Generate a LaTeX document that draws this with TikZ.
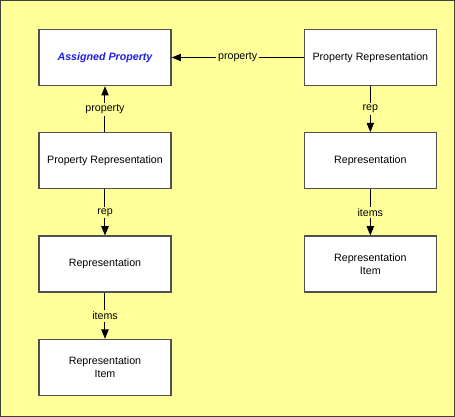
\documentclass[tikz,border=0pt]{standalone}
\usepackage{fontspec}
\setmainfont{Liberation Sans}
\definecolor{PaleYellow}{RGB}{255, 255, 153}
\definecolor{FrameGray}{RGB}{64, 64, 64}
\definecolor{BoxGray}{RGB}{80, 80, 80}
\definecolor{PropBlue}{RGB}{30, 30, 230}
\usetikzlibrary{arrows.meta, positioning}

\begin{document}
\begin{tikzpicture}[node distance=34.5pt, every node/.style={font=\footnotesize},
    box/.style={draw=BoxGray, line width=1pt, fill=white, rectangle, minimum width=99pt, minimum height=42pt, align=center, inner sep=0pt},
    lbl/.style={fill=PaleYellow, inner sep=1.5pt},
    link/.style={-{Triangle[length=7pt, width=5.5pt]}, line width=0.75pt}]
    % background frame
    \fill[PaleYellow, draw=FrameGray, line width=0.75pt] (0.375pt,-0.375pt) rectangle (340.875pt,-312.375pt);
    \useasboundingbox (0,0) rectangle (341.25pt,-312.75pt);

    % left column
    \node[box] (ap) at (78.75pt,-43.125pt) {\textcolor{PropBlue}{\bfseries\itshape Assigned Property}};
    \node[box, below=of ap] (prl) {Property Representation};
    \node[box, below=of prl] (repl) {Representation};
    \node[box, below=of repl] (iteml) {Representation\\Item};

    % right column
    \node[box, right=99pt of ap] (prr) {Property Representation};
    \node[box, below=of prr] (repr) {Representation};
    \node[box, below=of repr] (itemr) {Representation\\Item};

    \draw[link] (prl) -- (ap) node[midway, lbl] {property};
    \draw[link] (prl) -- (repl) node[midway, lbl] {rep};
    \draw[link] (repl) -- (iteml) node[midway, lbl] {items};
    \draw[link] (prr) -- (ap) node[midway, lbl] {property};
    \draw[link] (prr) -- (repr) node[midway, lbl] {rep};
    \draw[link] (repr) -- (itemr) node[midway, lbl] {items};
\end{tikzpicture}
\end{document}
